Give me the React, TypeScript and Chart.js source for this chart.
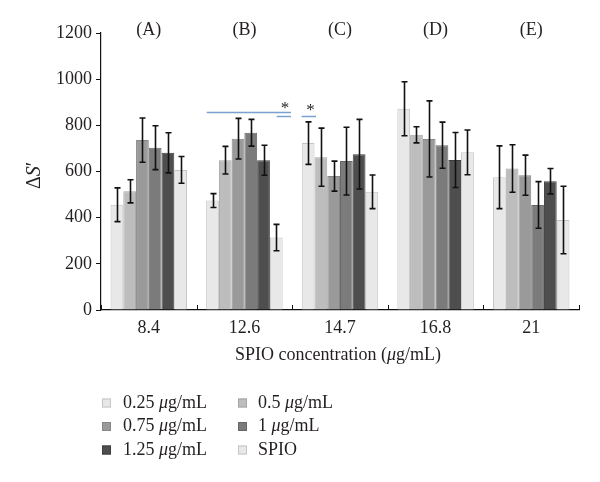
import React, { useEffect, useRef } from "react";
import { Chart, registerables } from "chart.js";

Chart.register(...registerables);

// ---------- data ----------
const categories = ["8.4", "12.6", "14.7", "16.8", "21"];
const groupLabels = ["(A)", "(B)", "(C)", "(D)", "(E)"];
const seriesLabels = ["0.25 μg/mL", "0.5 μg/mL", "0.75 μg/mL", "1 μg/mL", "1.25 μg/mL", "SPIO"];

const v025 = [456, 474, 723, 872, 575];
const e025 = [73, 30, 92, 117, 136];
const v05 = [514, 649, 662, 759, 613];
const e05 = [50, 60, 126, 35, 103];
const v075 = [736, 742, 580, 741, 584];
const e075 = [96, 88, 65, 165, 87];
const v1 = [703, 768, 645, 714, 455];
const e1 = [95, 58, 147, 100, 101];
const v125 = [681, 649, 675, 650, 558];
const e125 = [87, 65, 151, 119, 55];
const vSpio = [607, 314, 512, 683, 390];
const eSpio = [58, 57, 73, 97, 146];

const yMin = 0;
const yMax = 1200;
const yStep = 200;

// significance annotations (category-index units, value units)
const sigLines = [
  { from: 0.606, to: 1.487, value: 859 },
  { from: 1.338, to: 1.487, value: 839 },
  { from: 1.599, to: 1.749, value: 839 },
];
const sigStars = [
  { at: 1.425, value: 855 },
  { at: 1.691, value: 845 },
];

// ---------- styles ----------
const FONT = "'Liberation Serif', 'Times New Roman', serif";
const TEXT = "#231f20";
const fills = ["#e8e8e8", "#bdbdbd", "#9a9a9a", "#7b7b7b", "#4e4e4e", "#e8e8e8"];
const borders = ["#c4c4c4", "#a6a6a6", "#878787", "#686868", "#3e3e3e", "#c4c4c4"];
const values = [v025, v05, v075, v1, v125, vSpio];
const errors = [e025, e05, e075, e1, e125, eSpio];

type Part = { t: string; i?: boolean };

function splitMu(s: string): Part[] {
  const idx = s.indexOf("μ");
  if (idx < 0) return [{ t: s }];
  return [{ t: s.slice(0, idx) }, { t: "μ", i: true }, { t: s.slice(idx + 1) }];
}

function drawRich(ctx: CanvasRenderingContext2D, parts: Part[], x: number, y: number, size: number, align: "left" | "center") {
  const fontOf = (p: Part) => `${p.i ? "italic " : ""}${size}px ${FONT}`;
  let total = 0;
  for (const p of parts) {
    ctx.font = fontOf(p);
    total += ctx.measureText(p.t).width;
  }
  let cx = align === "center" ? x - total / 2 : x;
  ctx.textAlign = "left";
  for (const p of parts) {
    ctx.font = fontOf(p);
    ctx.fillText(p.t, cx, y);
    cx += ctx.measureText(p.t).width;
  }
}

const extrasPlugin = {
  id: "extras",
  afterDatasetsDraw(chart: any) {
    const ctx: CanvasRenderingContext2D = chart.ctx;
    const xs = chart.scales.x;
    const ys = chart.scales.y;
    const area = chart.chartArea;
    ctx.save();

    // error bars
    ctx.strokeStyle = "#111";
    ctx.lineWidth = 1.6;
    chart.data.datasets.forEach((ds: any, di: number) => {
      const meta = chart.getDatasetMeta(di);
      meta.data.forEach((bar: any, i: number) => {
        const v = ds.data[i];
        const e = errors[di][i];
        const x = Math.round(bar.x) + 0.5;
        const yt = ys.getPixelForValue(v + e);
        const yb = ys.getPixelForValue(v - e);
        ctx.beginPath();
        ctx.moveTo(x, yt);
        ctx.lineTo(x, yb);
        ctx.moveTo(x - 3, yt);
        ctx.lineTo(x + 3, yt);
        ctx.moveTo(x - 3, yb);
        ctx.lineTo(x + 3, yb);
        ctx.stroke();
      });
    });

    // inward x-axis ticks at category boundaries
    ctx.strokeStyle = "#111";
    ctx.lineWidth = 1;
    for (let i = 0; i <= categories.length; i++) {
      const x = Math.round(xs.getPixelForValue(i - 0.5)) + 0.5;
      ctx.beginPath();
      ctx.moveTo(x, area.bottom);
      ctx.lineTo(x, area.bottom - 5);
      ctx.stroke();
    }

    // group labels
    ctx.fillStyle = TEXT;
    ctx.font = `18px ${FONT}`;
    ctx.textAlign = "center";
    ctx.textBaseline = "middle";
    groupLabels.forEach((g, i) => {
      ctx.fillText(g, xs.getPixelForValue(i), area.top - 3);
    });

    // significance lines and stars
    ctx.strokeStyle = "#7aa1cf";
    ctx.lineWidth = 1.5;
    sigLines.forEach((l) => {
      const y = Math.round(ys.getPixelForValue(l.value)) + 0.5;
      ctx.beginPath();
      ctx.moveTo(xs.getPixelForValue(l.from), y);
      ctx.lineTo(xs.getPixelForValue(l.to), y);
      ctx.stroke();
    });
    ctx.fillStyle = TEXT;
    ctx.font = `17px ${FONT}`;
    ctx.textAlign = "center";
    ctx.textBaseline = "alphabetic";
    sigStars.forEach((s) => {
      ctx.fillText("*", xs.getPixelForValue(s.at), ys.getPixelForValue(s.value));
    });

    // axis titles
    ctx.fillStyle = TEXT;
    ctx.textBaseline = "middle";
    drawRich(ctx, [{ t: "SPIO concentration (" }, { t: "μ", i: true }, { t: "g/mL)" }], (area.left + area.right) / 2 - 2, 355, 18, "center");

    ctx.save();
    ctx.translate(35, (area.top + area.bottom) / 2 + 4);
    ctx.rotate(-Math.PI / 2);
    drawRich(ctx, [{ t: "Δ" }, { t: "S", i: true }, { t: "′" }], 0, 0, 20, "center");
    ctx.restore();

    // legend (two columns)
    const colSquare = [102, 238];
    const colText = [123, 258];
    const rowY = [403, 426.5, 450];
    seriesLabels.forEach((lab, k) => {
      const col = k % 2;
      const row = Math.floor(k / 2);
      const y = rowY[row];
      ctx.fillStyle = fills[k];
      ctx.fillRect(colSquare[col], y - 4.5, 9, 9);
      ctx.strokeStyle = borders[k];
      ctx.lineWidth = 1;
      ctx.strokeRect(colSquare[col] + 0.5, y - 4, 8, 8);
      ctx.fillStyle = TEXT;
      ctx.textBaseline = "middle";
      drawRich(ctx, splitMu(lab), colText[col], y, 18, "left");
    });

    ctx.restore();
  },
};

export default function App() {
  const ref = useRef<HTMLCanvasElement | null>(null);

  useEffect(() => {
    document.body.style.margin = "0";
    const canvas = ref.current;
    if (!canvas) return;
    const chart = new Chart(canvas, {
      type: "bar",
      data: {
        labels: categories,
        datasets: seriesLabels.map((lab, k) => ({
          label: lab,
          data: values[k],
          backgroundColor: fills[k],
          borderColor: borders[k],
          borderWidth: 1,
          categoryPercentage: 0.8,
          barPercentage: 1.0,
        })),
      },
      options: {
        responsive: false,
        animation: false,
        devicePixelRatio: 1,
        layout: { padding: { left: 0, right: 21, top: 33, bottom: 0 } },
        plugins: {
          legend: { display: false },
          tooltip: { enabled: false },
          title: { display: false },
        },
        scales: {
          x: {
            type: "category",
            offset: true,
            grid: { display: false, drawOnChartArea: false, drawTicks: false },
            border: { display: true, color: "#111", width: 1.2 },
            ticks: { color: TEXT, font: { family: FONT, size: 18 }, padding: 7, maxRotation: 0 },
            afterFit: (s: any) => {
              s.height = 172;
            },
          },
          y: {
            min: yMin,
            max: yMax,
            ticks: {
              stepSize: yStep,
              color: TEXT,
              font: { family: FONT, size: 18 },
              padding: 4,
              callback: (v: any) => String(v),
            },
            grid: { drawOnChartArea: false, drawTicks: true, tickLength: 5, tickColor: "#111", tickWidth: 1 },
            border: { display: true, color: "#111", width: 1.2 },
            afterFit: (s: any) => {
              s.width = 101;
            },
          },
        },
      },
      plugins: [extrasPlugin],
    } as any);
    return () => chart.destroy();
  }, []);

  return (
    <div style={{ position: "absolute", left: 0, top: 0, width: 600, height: 482, background: "#fff" }}>
      <canvas ref={ref} width={600} height={482} style={{ width: 600, height: 482, display: "block" }} />
    </div>
  );
}
